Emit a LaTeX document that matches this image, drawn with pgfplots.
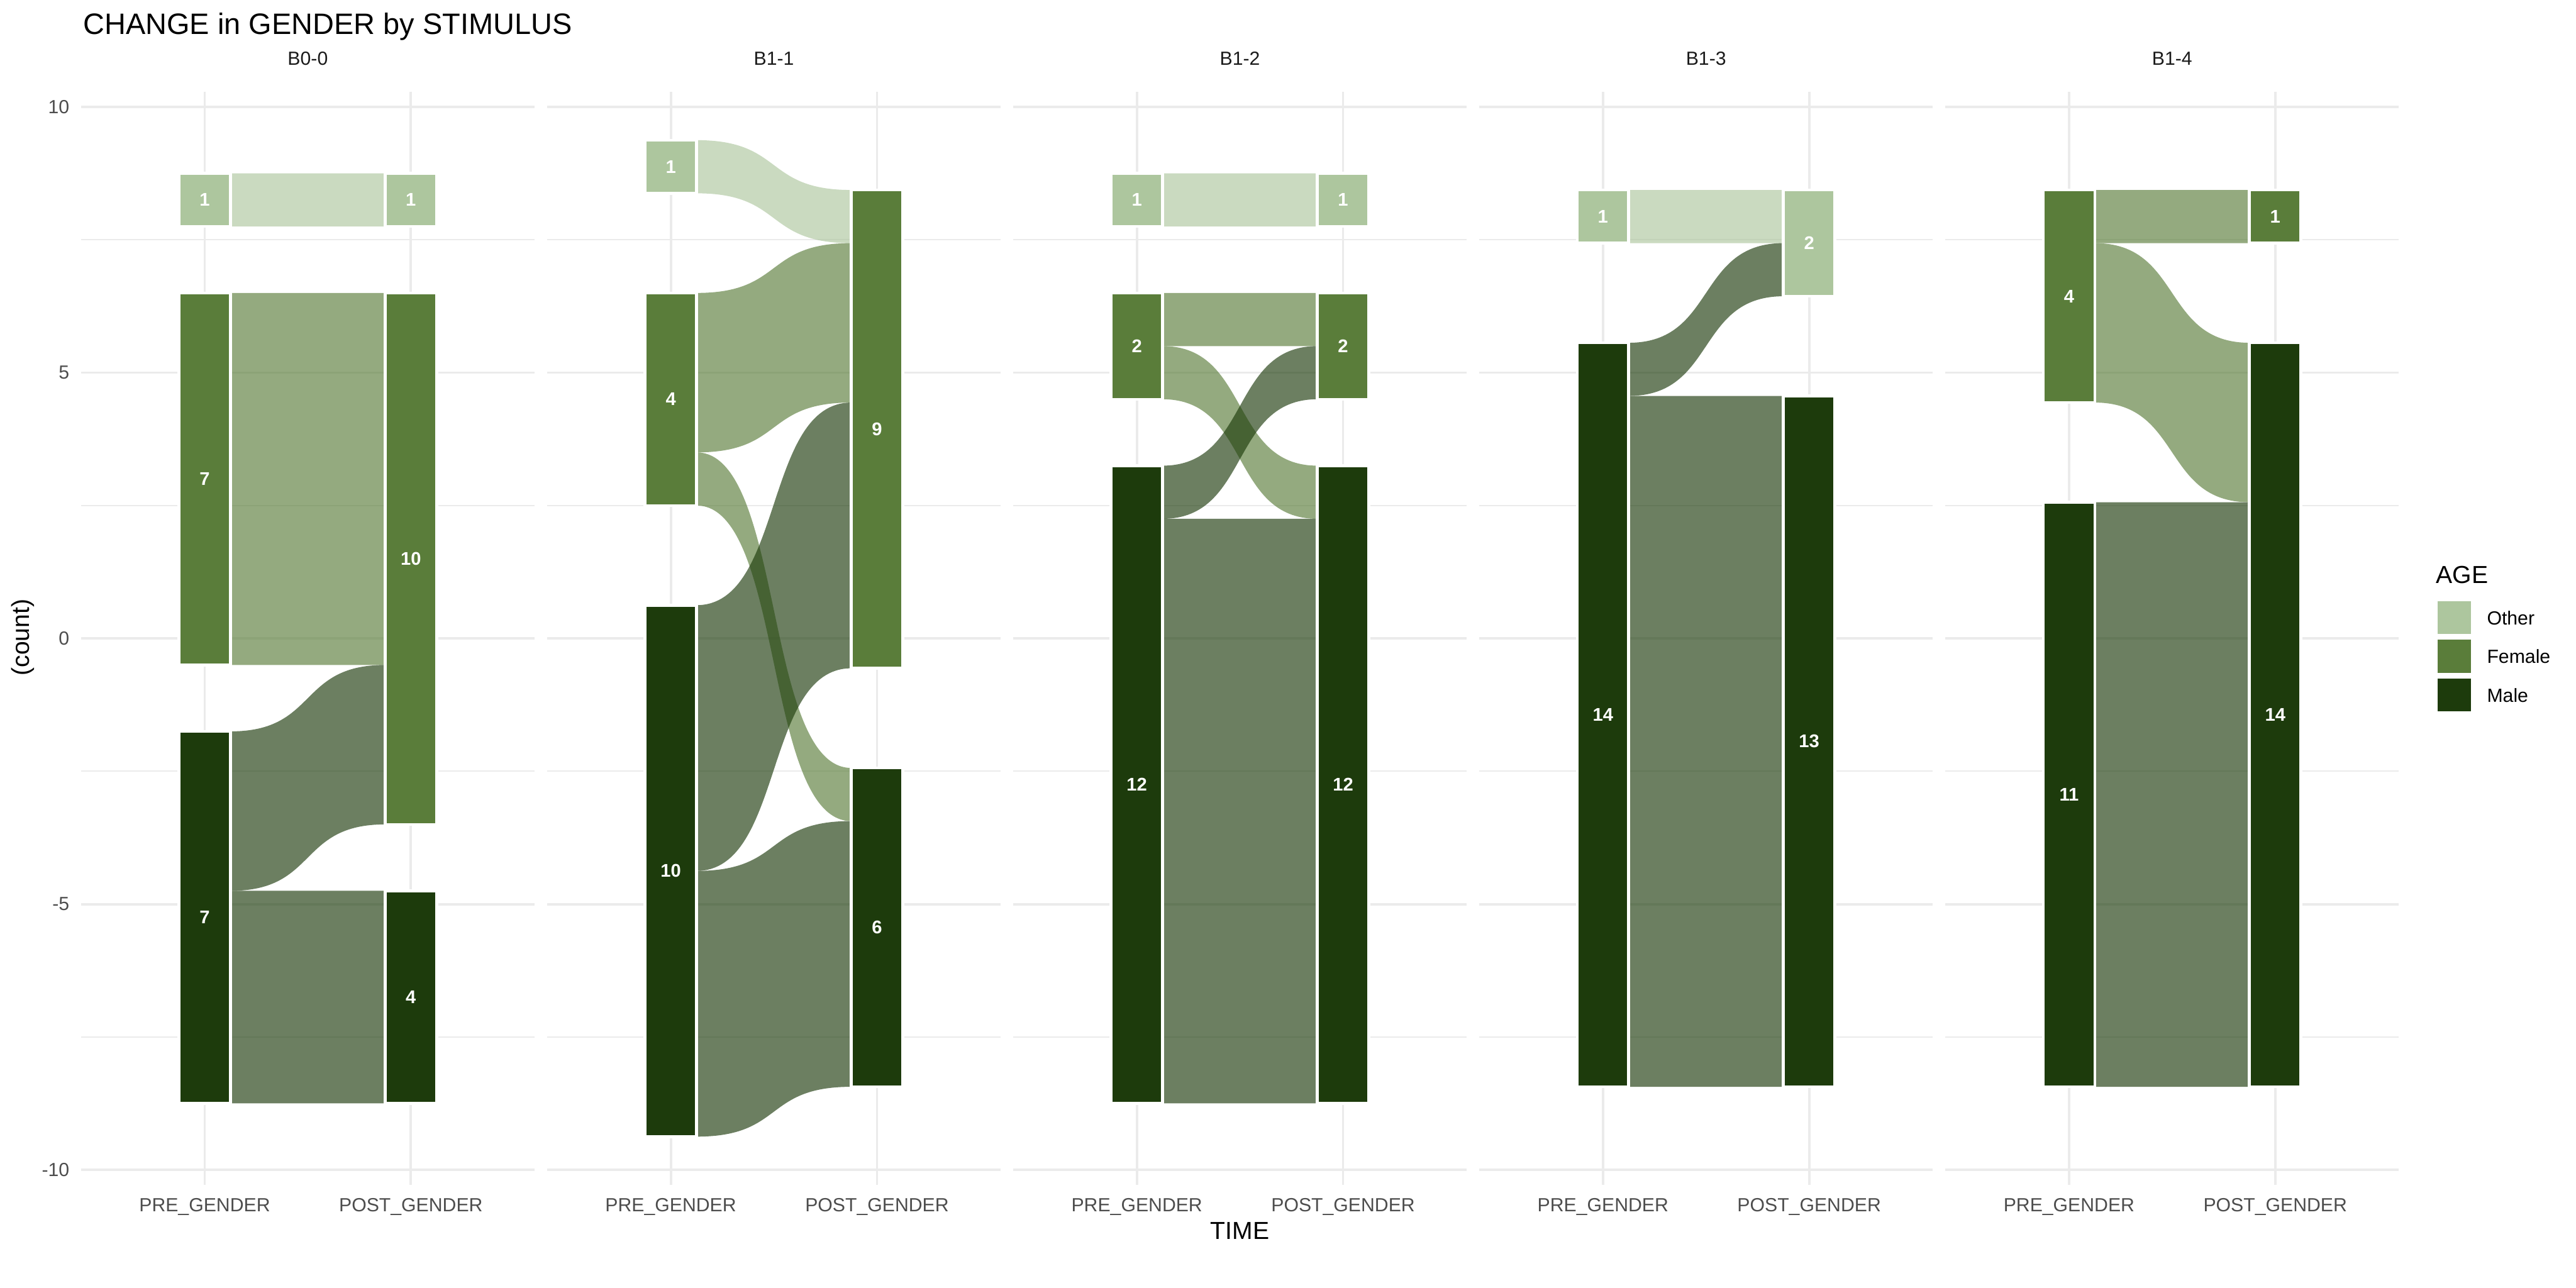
\documentclass[border=0pt]{standalone}
\usepackage{pgfplots}
\pgfplotsset{compat=1.18}
\usepackage{fontspec}
\setmainfont{Liberation Sans}
\setsansfont{Liberation Sans}
\definecolor{otherc}{RGB}{173,198,158}
\definecolor{femc}{RGB}{90,125,58}
\definecolor{malec}{RGB}{29,59,12}
\definecolor{gridc}{RGB}{235,235,235}
\definecolor{ticklab}{RGB}{77,77,77}
\definecolor{striplab}{RGB}{26,26,26}
\newcommand{\fs}[1]{\fontsize{#1}{#1}\selectfont}
% flow: colour, top at PRE, bottom at PRE, top at POST, bottom at POST
\newcommand{\flow}[5]{\fill[#1, fill opacity=0.65] (axis cs:1.125,#2) .. controls (axis cs:1.55,#2) and (axis cs:1.45,#4) .. (axis cs:1.875,#4) -- (axis cs:1.875,#5) .. controls (axis cs:1.45,#5) and (axis cs:1.55,#3) .. (axis cs:1.125,#3) -- cycle;}
% stratum: left, right, bottom, top, colour
\newcommand{\stratum}[5]{\addplot[fill=#5, draw=white, line width=1.3pt] coordinates {(#1,#3) (#2,#3) (#2,#4) (#1,#4)} -- cycle;}
\newcommand{\lab}[3]{\node[text=white, font=\bfseries\fs{8.2}, inner sep=0pt] at (axis cs:#1,#2) {#3};}
\pgfplotsset{panel/.style={
  scale only axis, width=202.85pt, height=488.87pt, anchor=south west,
  xmin=0.4, xmax=2.6, ymin=-10.285, ymax=10.285,
  axis line style={draw=none},
  major tick length=0pt, minor tick length=0pt,
  xtick={1,2}, xticklabels={PRE\_GENDER,POST\_GENDER},
  ytick={-10,-5,0,5,10}, minor ytick={-7.5,-2.5,2.5,7.5},
  xmajorgrids, ymajorgrids, yminorgrids,
  major grid style={draw=gridc, line width=1.07pt},
  minor grid style={draw=gridc, line width=0.53pt},
  xticklabel style={font=\fs{8.5}, text=ticklab, anchor=base, yshift=-12pt},
  yticklabels={},
  title style={font=\fs{8.5}, text=striplab, at={(0.5,1)}, anchor=base, yshift=5.9pt},
}}
\begin{document}
\begin{tikzpicture}
\path[use as bounding box] (0,0) rectangle (1152pt,576pt);
% ---------------- B0-0
\begin{axis}[panel, at={(36.22pt,46.07pt)}, title={B0-0},
  yticklabels={-10,-5,0,5,10},
  yticklabel style={font=\fs{8.5}, text=ticklab, anchor=east, inner sep=0pt, xshift=-5pt}]
\flow{otherc}{8.75}{7.75}{8.75}{7.75}
\flow{femc}{6.5}{-0.5}{6.5}{-0.5}
\flow{malec}{-1.75}{-4.75}{-0.5}{-3.5}
\flow{malec}{-4.75}{-8.75}{-4.75}{-8.75}
\stratum{0.875}{1.125}{7.75}{8.75}{otherc}
\stratum{0.875}{1.125}{-0.5}{6.5}{femc}
\stratum{0.875}{1.125}{-8.75}{-1.75}{malec}
\stratum{1.875}{2.125}{7.75}{8.75}{otherc}
\stratum{1.875}{2.125}{-3.5}{6.5}{femc}
\stratum{1.875}{2.125}{-8.75}{-4.75}{malec}
\lab{1}{8.25}{1} \lab{1}{3}{7} \lab{1}{-5.25}{7}
\lab{2}{8.25}{1} \lab{2}{1.5}{10} \lab{2}{-6.75}{4}
\end{axis}
% ---------------- B1-1
\begin{axis}[panel, at={(244.66pt,46.07pt)}, title={B1-1}]
\flow{otherc}{9.375}{8.375}{8.4375}{7.4375}
\flow{femc}{6.5}{3.5}{7.4375}{4.4375}
\flow{femc}{3.5}{2.5}{-2.4375}{-3.4375}
\flow{malec}{0.625}{-4.375}{4.4375}{-0.5625}
\flow{malec}{-4.375}{-9.375}{-3.4375}{-8.4375}
\stratum{0.875}{1.125}{8.375}{9.375}{otherc}
\stratum{0.875}{1.125}{2.5}{6.5}{femc}
\stratum{0.875}{1.125}{-9.375}{0.625}{malec}
\stratum{1.875}{2.125}{-0.5625}{8.4375}{femc}
\stratum{1.875}{2.125}{-8.4375}{-2.4375}{malec}
\lab{1}{8.875}{1} \lab{1}{4.5}{4} \lab{1}{-4.375}{10}
\lab{2}{3.9375}{9} \lab{2}{-5.4375}{6}
\end{axis}
% ---------------- B1-2
\begin{axis}[panel, at={(453.09pt,46.07pt)}, title={B1-2}]
\flow{otherc}{8.75}{7.75}{8.75}{7.75}
\flow{femc}{6.5}{5.5}{6.5}{5.5}
\flow{femc}{5.5}{4.5}{3.25}{2.25}
\flow{malec}{3.25}{2.25}{5.5}{4.5}
\flow{malec}{2.25}{-8.75}{2.25}{-8.75}
\stratum{0.875}{1.125}{7.75}{8.75}{otherc}
\stratum{0.875}{1.125}{4.5}{6.5}{femc}
\stratum{0.875}{1.125}{-8.75}{3.25}{malec}
\stratum{1.875}{2.125}{7.75}{8.75}{otherc}
\stratum{1.875}{2.125}{4.5}{6.5}{femc}
\stratum{1.875}{2.125}{-8.75}{3.25}{malec}
\lab{1}{8.25}{1} \lab{1}{5.5}{2} \lab{1}{-2.75}{12}
\lab{2}{8.25}{1} \lab{2}{5.5}{2} \lab{2}{-2.75}{12}
\end{axis}
% ---------------- B1-3
\begin{axis}[panel, at={(661.52pt,46.07pt)}, title={B1-3}]
\flow{otherc}{8.4375}{7.4375}{8.4375}{7.4375}
\flow{malec}{5.5625}{4.5625}{7.4375}{6.4375}
\flow{malec}{4.5625}{-8.4375}{4.5625}{-8.4375}
\stratum{0.875}{1.125}{7.4375}{8.4375}{otherc}
\stratum{0.875}{1.125}{-8.4375}{5.5625}{malec}
\stratum{1.875}{2.125}{6.4375}{8.4375}{otherc}
\stratum{1.875}{2.125}{-8.4375}{4.5625}{malec}
\lab{1}{7.9375}{1} \lab{1}{-1.4375}{14}
\lab{2}{7.4375}{2} \lab{2}{-1.9375}{13}
\end{axis}
% ---------------- B1-4
\begin{axis}[panel, at={(869.96pt,46.07pt)}, title={B1-4}]
\flow{femc}{8.4375}{7.4375}{8.4375}{7.4375}
\flow{femc}{7.4375}{4.4375}{5.5625}{2.5625}
\flow{malec}{2.5625}{-8.4375}{2.5625}{-8.4375}
\stratum{0.875}{1.125}{4.4375}{8.4375}{femc}
\stratum{0.875}{1.125}{-8.4375}{2.5625}{malec}
\stratum{1.875}{2.125}{7.4375}{8.4375}{femc}
\stratum{1.875}{2.125}{-8.4375}{5.5625}{malec}
\lab{1}{6.4375}{4} \lab{1}{-2.9375}{11}
\lab{2}{7.9375}{1} \lab{2}{-1.4375}{14}
\end{axis}
% ---------------- titles
\node[font=\fs{13.2}, anchor=base west, inner sep=0pt] at (37.0pt,560.8pt) {CHANGE in GENDER by STIMULUS};
\node[font=\fs{11}, rotate=90, inner sep=0pt] at (10.3pt,290.9pt) {(count)};
\node[font=\fs{11}, anchor=base, inner sep=0pt] at (554.5pt,21.7pt) {TIME};
% ---------------- legend
\node[font=\fs{11}, anchor=base west, inner sep=0pt] at (1089.3pt,315.0pt) {AGE};
\fill[otherc] (1090.2pt,292.6pt) rectangle (1105.0pt,307.2pt);
\fill[femc] (1090.2pt,275.2pt) rectangle (1105.0pt,289.9pt);
\fill[malec] (1090.2pt,257.9pt) rectangle (1105.0pt,272.6pt);
\node[font=\fs{8.5}, anchor=base west, inner sep=0pt] at (1112.0pt,296.6pt) {Other};
\node[font=\fs{8.5}, anchor=base west, inner sep=0pt] at (1112.0pt,279.3pt) {Female};
\node[font=\fs{8.5}, anchor=base west, inner sep=0pt] at (1112.0pt,262.0pt) {Male};
\end{tikzpicture}
\end{document}
